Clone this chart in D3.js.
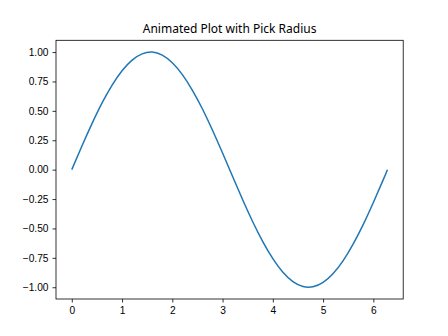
<!DOCTYPE html>
<html lang="en">
<head>
<meta charset="UTF-8">
<script src="https://cdn.jsdelivr.net/npm/d3@7"></script>
<title>Animated Plot with Pick Radius</title>
<style>
    body { margin: 0; background: white; }
    svg { display: block; font-family: "Noto Sans", "Open Sans", sans-serif; }
    .tick text { font-size: 10.2px; fill: #000; }
    .tick line, .domain { stroke: #000; stroke-width: 0.8px; }
</style>
</head>
<body>
<div class="fig"></div>
<script>
    // points
    const xs = [0, 0.2, 0.4, 0.6, 0.8, 1.0, 1.2, 1.4, 1.6, 1.8, 2.0, 2.2, 2.4, 2.6, 2.8, 3.0,
                3.2, 3.4, 3.6, 3.8, 4.0, 4.2, 4.4, 4.6, 4.8, 5.0, 5.2, 5.4, 5.6, 5.8, 6.0, 6.2, 6.28];
    const ys = [0, 0.199, 0.389, 0.565, 0.717, 0.841, 0.932, 0.985, 1.000, 0.974, 0.909, 0.808, 0.675, 0.516, 0.335, 0.141,
                -0.058, -0.256, -0.443, -0.612, -0.757, -0.872, -0.952, -0.994, -0.996, -0.959, -0.883, -0.773, -0.631, -0.465, -0.279, -0.083, 0];
    const xTicks = [0, 1, 2, 3, 4, 5, 6];
    const yTicks = [-1.00, -0.75, -0.50, -0.25, 0.00, 0.25, 0.50, 0.75, 1.00];

    const width = 448, height = 336;
    const margin = { left: 56, right: 44.8, top: 40.3, bottom: 37 };

    const svg = d3.select(".fig").append("svg")
        .attr("width", width)
        .attr("height", height);

    const xPad = (d3.max(xs) - d3.min(xs)) * 0.05;
    const x = d3.scaleLinear()
        .domain([d3.min(xs) - xPad, d3.max(xs) + xPad])
        .range([margin.left, width - margin.right]);
    const y = d3.scaleLinear()
        .domain([-1.1, 1.1])
        .range([height - margin.bottom, margin.top]);

    svg.append("g")
        .attr("transform", `translate(0,${height - margin.bottom})`)
        .call(d3.axisBottom(x).tickValues(xTicks).tickSize(3.5).tickPadding(4).tickFormat(d3.format("d")))
        .call(g => g.select(".domain").remove());

    svg.append("g")
        .attr("transform", `translate(${margin.left},0)`)
        .call(d3.axisLeft(y).tickValues(yTicks).tickSize(3.5).tickPadding(4).tickFormat(d3.format(".2f")))
        .call(g => g.select(".domain").remove());

    const line = d3.line()
        .x((d, i) => x(xs[i]))
        .y(d => y(d))
        .curve(d3.curveNatural);

    svg.append("path")
        .datum(ys)
        .attr("d", line)
        .attr("fill", "none")
        .attr("stroke", "#1f77b4")
        .attr("stroke-width", 1.5);

    svg.append("rect")
        .attr("x", margin.left)
        .attr("y", margin.top)
        .attr("width", width - margin.left - margin.right)
        .attr("height", height - margin.top - margin.bottom)
        .attr("fill", "none")
        .attr("stroke", "#000")
        .attr("stroke-width", 0.8);

    svg.append("text")
        .attr("x", (margin.left + width - margin.right) / 2)
        .attr("y", margin.top - 7)
        .attr("text-anchor", "middle")
        .attr("font-size", 12)
        .text("Animated Plot with Pick Radius");
</script>
</body>
</html>
